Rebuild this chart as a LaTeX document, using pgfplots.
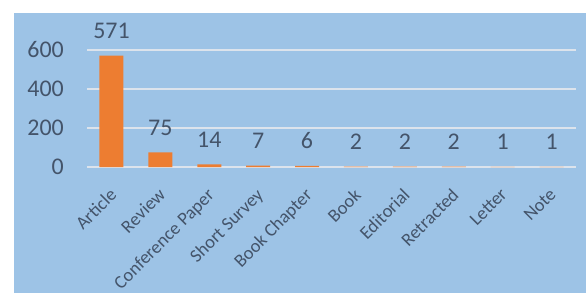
\documentclass[border=0pt]{standalone}
\usepackage{pgfplots}
\pgfplotsset{compat=1.18}
\usepackage{fontspec}
\setmainfont{Carlito}
\definecolor{bgblue}{HTML}{9DC3E6}
\definecolor{barorange}{HTML}{ED7D31}
\definecolor{txt}{HTML}{44546A}
\definecolor{gridc}{HTML}{DCE3EC}
\begin{document}
\begin{tikzpicture}[x=1bp,y=1bp]
\useasboundingbox (0,0) rectangle (586,293);
\fill[white] (0,0) rectangle (586,293);
\fill[bgblue] (14,0) rectangle (586,280);
\begin{axis}[
  at={(87bp,126bp)}, anchor=south west,
  scale only axis, width=489bp, height=117bp,
  xmin=-0.5, xmax=9.5, ymin=0, ymax=600,
  clip=false,
  axis line style={draw=none},
  major tick length=0pt,
  ytick={0,200,400,600},
  ymajorgrids, grid style={gridc, line width=2.2bp},
  xtick=data,
  xticklabels={Article,Review,Conference Paper,Short Survey,Book Chapter,Book,Editorial,Retracted,Letter,Note},
  /pgf/number format/assume math mode=true,
  y tick label style={font=\fontsize{24}{28}\selectfont, text=txt, anchor=east, inner sep=0pt, xshift=-23bp},
  x tick label style={font=\fontsize{18.5}{21}\selectfont, text=txt, inner sep=0pt, xshift=-3bp, yshift=-20bp, rotate=45, anchor=north east},
  ybar, bar width=24bp,
  nodes near coords,
  every node near coord/.append style={font=\fontsize{24}{28}\selectfont, text=txt, anchor=south, inner sep=0pt, yshift=17bp},
]
\addplot[fill=barorange, draw=none] coordinates {(0,571) (1,75) (2,14) (3,7) (4,6) (5,2) (6,2) (7,2) (8,1) (9,1)};
\end{axis}
\end{tikzpicture}
\end{document}
